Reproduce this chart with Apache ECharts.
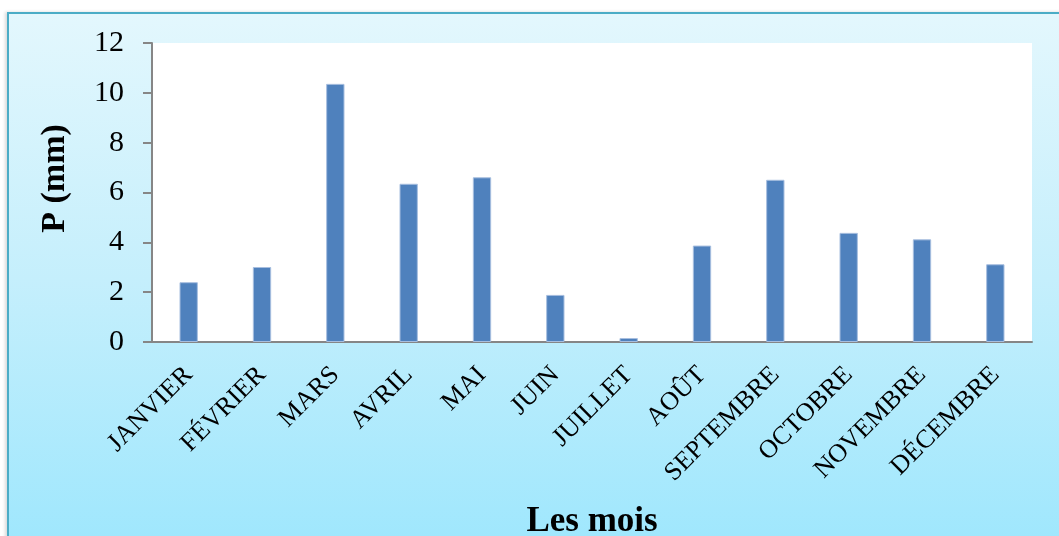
<!DOCTYPE html>
<html>
<head>
<meta charset="utf-8">
<script src="https://cdn.jsdelivr.net/npm/echarts@6/dist/echarts.min.js"></script>
<style>
  html, body { margin: 0; padding: 0; background: #ffffff; width: 1059px; height: 536px; overflow: hidden; }
  #frame {
    position: absolute; left: 7px; top: 12px; width: 1060px; height: 530px;
    border-left: 2px solid #4BACC6; border-top: 2px solid #4BACC6;
    background: linear-gradient(to bottom, #E3F7FD 0%, #C5EFFC 50%, #9FE7FD 100%);
    box-shadow: -2px 0 3px rgba(0,0,0,0.15);
  }
  #chart { position: absolute; left: 0; top: 0; width: 1059px; height: 536px; }
</style>
</head>
<body>
<div id="frame"></div>
<div id="chart"></div>
<script>
const categories = ['JANVIER', 'FÉVRIER', 'MARS', 'AVRIL', 'MAI', 'JUIN', 'JUILLET', 'AOÛT', 'SEPTEMBRE', 'OCTOBRE', 'NOVEMBRE', 'DÉCEMBRE'];
const precipitation = [2.40, 3.01, 10.36, 6.35, 6.61, 1.89, 0.16, 3.87, 6.51, 4.38, 4.12, 3.12];
const yAxisName = 'P (mm)';
const xAxisName = 'Les mois';

const serif = '"Liberation Serif", "Times New Roman", serif';
const chart = echarts.init(document.getElementById('chart'), null, { renderer: 'canvas' });
chart.setOption({
  backgroundColor: 'transparent',
  animation: false,
  grid: {
    left: 152, right: 27, top: 43, bottom: 194,
    containLabel: false,
    outerBoundsMode: 'none',
    show: true, backgroundColor: '#ffffff', borderWidth: 0
  },
  xAxis: {
    type: 'category',
    data: categories,
    name: xAxisName,
    nameLocation: 'middle',
    nameGap: 162,
    nameTextStyle: { fontFamily: serif, fontSize: 35, fontWeight: 'bold', color: '#000' },
    axisLine: { show: true, lineStyle: { color: '#868686', width: 2 } },
    axisTick: { show: false },
    axisLabel: {
      rotate: 45, margin: 29, interval: 0,
      fontFamily: serif, fontSize: 26, color: '#000'
    }
  },
  yAxis: {
    type: 'value',
    min: 0, max: 12, interval: 2,
    name: yAxisName,
    nameLocation: 'middle',
    nameGap: 80,
    nameTextStyle: { fontFamily: serif, fontSize: 34, fontWeight: 'bold', color: '#000', padding: [0, 0, 0, 28] },
    axisLine: { show: true, lineStyle: { color: '#868686', width: 2 } },
    axisTick: { show: true, length: 9, lineStyle: { color: '#868686', width: 2 } },
    splitLine: { show: false },
    axisLabel: { margin: 28, fontFamily: serif, fontSize: 30, color: '#000' }
  },
  series: [{
    type: 'bar',
    data: precipitation,
    barWidth: '25%',
    itemStyle: { color: '#4F81BD', borderColor: '#A7BEDF', borderWidth: 1 }
  }]
});
</script>
</body>
</html>
